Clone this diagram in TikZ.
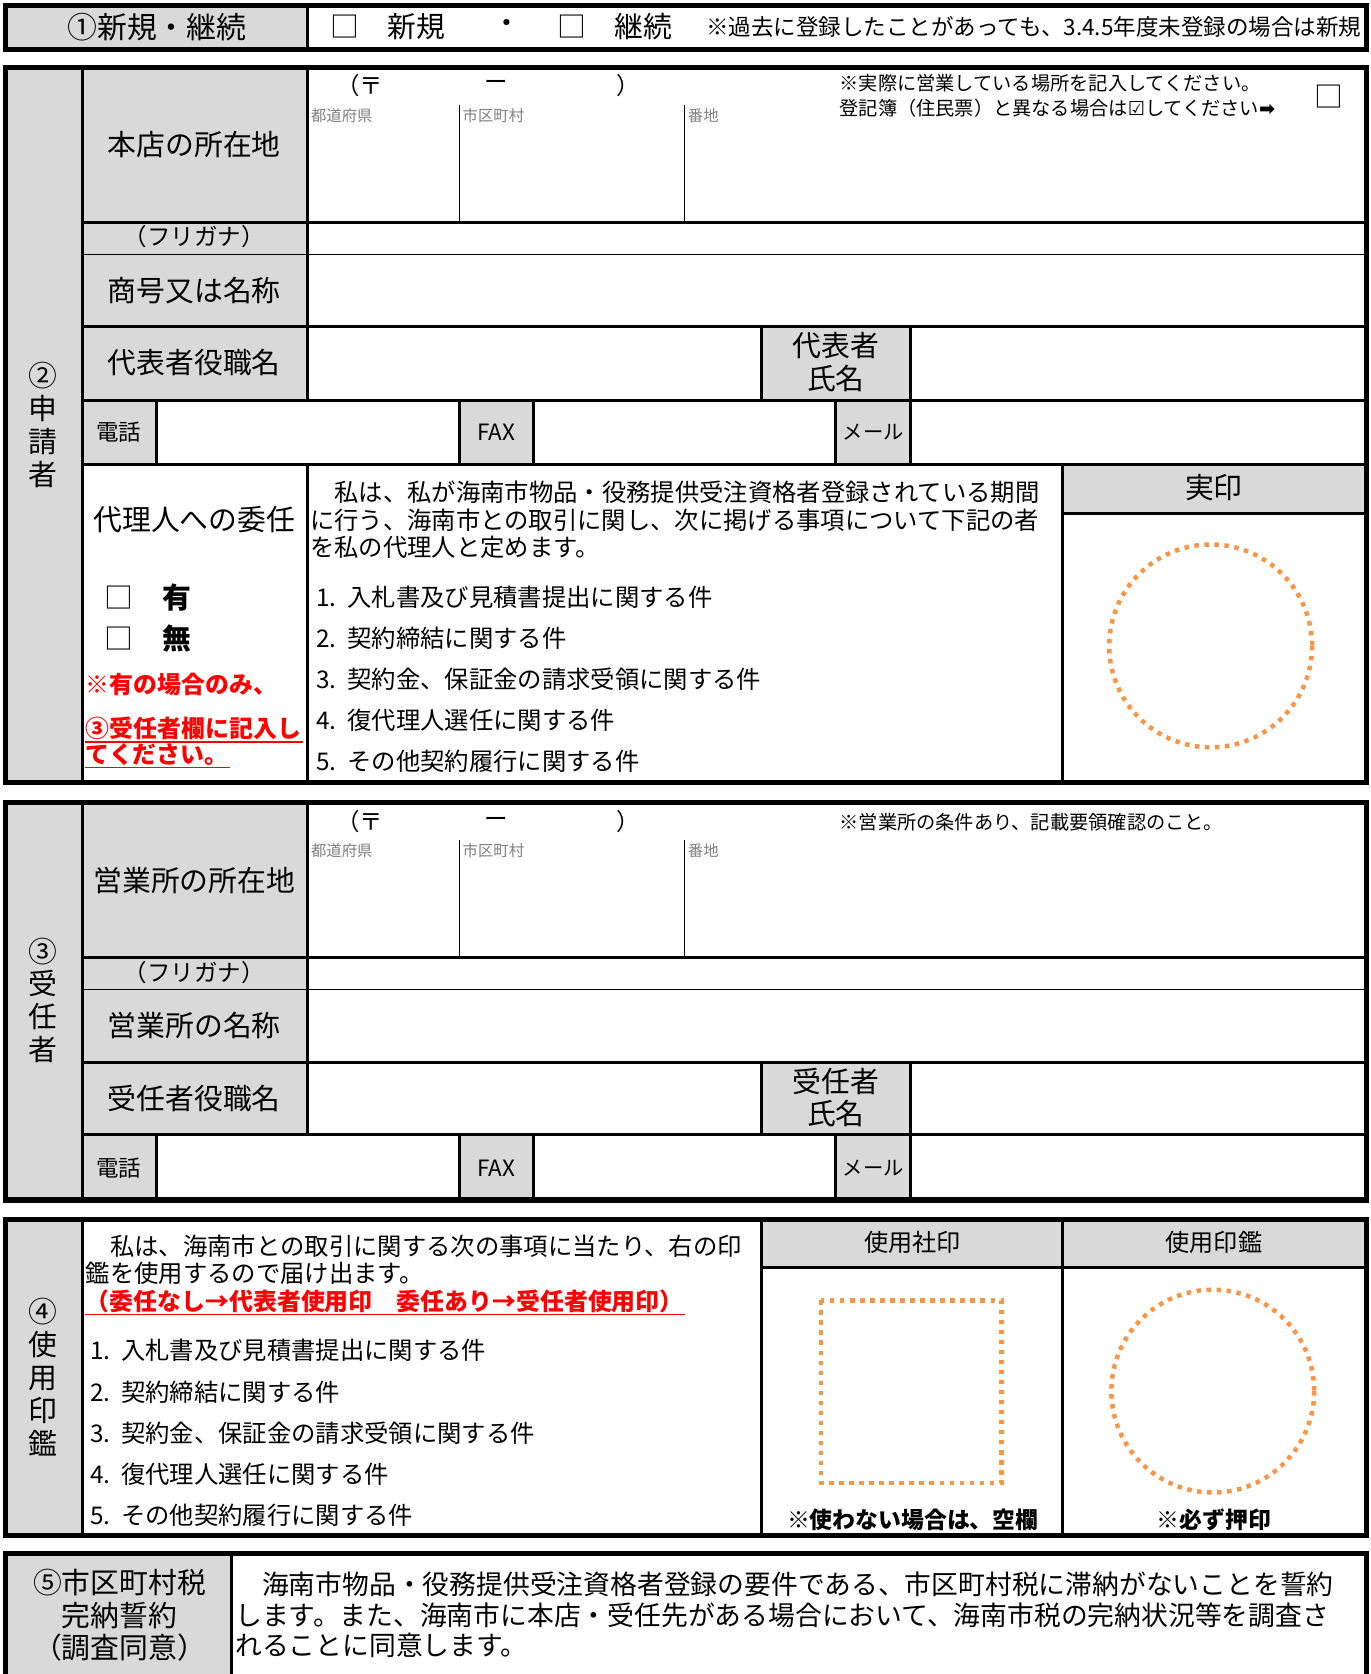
\documentclass[tikz,border=0pt]{standalone}
\usepackage{fontspec}
\setmainfont{Noto Sans CJK JP}
\newfontfamily\symfont{DejaVu Sans}
\usetikzlibrary{positioning}
\definecolor{cellgray}{HTML}{D9D9D9}
\definecolor{stamp}{HTML}{F79646}
\definecolor{hint}{HTML}{808080}
\tikzset{
outer/.style={line width=2.35pt},
inner/.style={line width=1.4pt},
hair/.style={line width=0.5pt},
stampline/.style={draw=stamp, line width=2.1pt, dash pattern=on 2.1pt off 2.6pt},
lbl/.style={inner sep=0pt, font=\fontsize{13.5pt}{15.5pt}\selectfont},
vlbl/.style={inner sep=0pt, align=center, font=\fontsize{13.5pt}{15.4pt}\selectfont},
zip/.style={inner sep=0pt, font=\fontsize{11pt}{13pt}\selectfont},
body/.style={inner sep=0pt, anchor=west, font=\fontsize{11.4pt}{13pt}\selectfont},
small/.style={inner sep=0pt, font=\fontsize{10.5pt}{12pt}\selectfont},
note/.style={inner sep=0pt, anchor=west, font=\fontsize{9pt}{11pt}\selectfont},
hint/.style={inner sep=0pt, anchor=west, text=hint, font=\fontsize{7.2pt}{8pt}\selectfont},
warn/.style={inner sep=0pt, anchor=west, text=red, font=\bfseries\fontsize{11.2pt}{13pt}\selectfont},
must/.style={inner sep=0pt, font=\bfseries\fontsize{10.7pt}{12pt}\selectfont}
}
\newcommand{\ul}{\draw[red, line width=0.6pt]}

\begin{document}
\begin{tikzpicture}[x=0.5pt,y=-0.5pt]
\clip (0,0) rectangle (1284,1568);
\fill[white] (0,0) rectangle (1284,1568);

% (1) new / continued
\fill[cellgray] (5,5) rectangle (288,46);
\draw[inner] (288,5) -- (288,46);
\draw[outer] (5,5) rectangle (1280,46);
\node[lbl, font=\fontsize{14pt}{16pt}\selectfont] (kind) at (147,25) {①新規・継続};
\node[lbl] (boxNew) at (323,25) {□};
\node[lbl] (new) at (390,25) {新規};
\node[lbl] (sep) at (475,25) {・};
\node[lbl] (boxCont) at (536,25) {□};
\node[lbl] (cont) at (603,25) {継続};
\node[inner sep=0pt, anchor=west, font=\fontsize{10.55pt}{12pt}\selectfont] (kindNote) at (661,25) {※過去に登録したことがあっても、3.4.5年度未登録の場合は新規};

% (2) applicant
\fill[cellgray] (5,63) rectangle (288,375);
\fill[cellgray] (5,375) rectangle (147,733);
\fill[cellgray] (430,375) rectangle (500,435);
\fill[cellgray] (783,375) rectangle (853,435);
\fill[cellgray] (713,306) rectangle (853,375);
\fill[cellgray] (995,435) rectangle (1280,481);
\fill[white] (77,435) rectangle (288,733);
\draw[inner] (77,63) -- (77,733);
\draw[inner] (288,63) -- (288,375) (288,435) -- (288,733);
\draw[inner] (77,208) -- (1280,208) (77,306) -- (1280,306) (77,375) -- (1280,375) (77,435) -- (1280,435);
\draw[hair] (77,238) -- (1280,238);
\draw[hair] (430,98) -- (430,208) (641,98) -- (641,208);
\draw[inner] (713,306) -- (713,375) (853,306) -- (853,435);
\draw[inner] (147,375) -- (147,435) (430,375) -- (430,435) (500,375) -- (500,435) (783,375) -- (783,435);
\draw[inner] (995,435) -- (995,733) (995,481) -- (1280,481);
\draw[outer] (5,63) rectangle (1280,733);
\draw[stampline] (1134,605) circle (95);

\node[vlbl] (appl) at (40,398) {②\\申\\請\\者};
\node[lbl] (hq) at (182,135) {本店の所在地};
\node[zip] (zipA) at (337,80) {（〒};
\node[zip] (zipB) at (465,80) {ー};
\node[zip] (zipC) at (588,80) {）};
\node[hint] (pref) at (291,108) {都道府県};
\node[hint] (city) at (433,108) {市区町村};
\node[hint] (lot) at (644,108) {番地};
\node[note] (hqNoteA) at (786,78) {※実際に営業している場所を記入してください。};
\node[note] (hqNoteB) at (786,101) {登記簿（住民票）と異なる場合は{\symfont ☑}してください{\symfont\bfseries ➡}};
\node[lbl] (hqBox) at (1245,90) {□};
\node[zip] (kana) at (182,222) {（フリガナ）};
\node[lbl] (firm) at (182,272) {商号又は名称};
\node[lbl] (rep) at (182,340) {代表者役職名};
\node[vlbl] (repName) at (783,339) {代表者\\氏名};
\node[small] (tel) at (111,405) {電話};
\node[small] (fax) at (465,405) {FAX};
\node[inner sep=0pt, font=\fontsize{9.5pt}{11pt}\selectfont] (mail) at (818,405) {メール};
\node[lbl] (agent) at (182,487) {代理人への委任};
\node[lbl] (boxYes) at (111,560) {□};
\node[lbl, font=\bfseries\fontsize{13.5pt}{15.5pt}\selectfont] (yes) at (166,560) {有};
\node[lbl] (boxNo) at (111,598) {□};
\node[lbl, font=\bfseries\fontsize{13.5pt}{15.5pt}\selectfont] (no) at (166,598) {無};
\node[warn] (warnA) at (80,641) {※有の場合のみ、};
\node[warn] (warnB) at (80,682) {③受任者欄に記入し};
\node[warn] (warnC) at (80,707) {てください。};
\ul (80,695) -- (284,695) (80,719) -- (215,719);
\node[body] (delA) at (290,461) {　私は、私が海南市物品・役務提供受注資格者登録されている期間};
\node[body] (delB) at (290,487) {に行う、海南市との取引に関し、次に掲げる事項について下記の者};
\node[body] (delC) at (290,513) {を私の代理人と定めます。};
\node[body] (itemA) at (296,559) {1.\kern5pt 入札書及び見積書提出に関する件};
\node[body] (itemB) at (296,598) {2.\kern5pt 契約締結に関する件};
\node[body] (itemC) at (296,636) {3.\kern5pt 契約金、保証金の請求受領に関する件};
\node[body] (itemD) at (296,675) {4.\kern5pt 復代理人選任に関する件};
\node[body] (itemE) at (296,713) {5.\kern5pt その他契約履行に関する件};
\node[lbl] (seal) at (1137,457) {実印};

% (3) delegate
\fill[cellgray] (5,752) rectangle (288,1063);
\fill[cellgray] (5,1063) rectangle (147,1124);
\fill[cellgray] (430,1063) rectangle (500,1124);
\fill[cellgray] (783,1063) rectangle (853,1124);
\fill[cellgray] (713,995) rectangle (853,1063);
\draw[inner] (77,752) -- (77,1124) (288,752) -- (288,1063);
\draw[inner] (77,897) -- (1280,897) (77,995) -- (1280,995) (77,1063) -- (1280,1063);
\draw[hair] (77,927) -- (1280,927);
\draw[hair] (430,787) -- (430,897) (641,787) -- (641,897);
\draw[inner] (713,995) -- (713,1063) (853,995) -- (853,1124);
\draw[inner] (147,1063) -- (147,1124) (430,1063) -- (430,1124) (500,1063) -- (500,1124) (783,1063) -- (783,1124);
\draw[outer] (5,752) rectangle (1280,1124);

\node[vlbl] (dlg) at (40,937) {③\\受\\任\\者};
\node[lbl] (office) at (182,825) {営業所の所在地};
\node[zip] (zipD) at (337,770) {（〒};
\node[zip] (zipE) at (465,770) {ー};
\node[zip] (zipF) at (588,770) {）};
\node[hint] (pref2) at (291,797) {都道府県};
\node[hint] (city2) at (433,797) {市区町村};
\node[hint] (lot2) at (644,797) {番地};
\node[note] (officeNote) at (786,770) {※営業所の条件あり、記載要領確認のこと。};
\node[zip] (kana2) at (182,911) {（フリガナ）};
\node[lbl] (officeName) at (182,961) {営業所の名称};
\node[lbl] (dlgPost) at (182,1029) {受任者役職名};
\node[vlbl] (dlgName) at (783,1028) {受任者\\氏名};
\node[small] (tel2) at (111,1094) {電話};
\node[small] (fax2) at (465,1094) {FAX};
\node[inner sep=0pt, font=\fontsize{9.5pt}{11pt}\selectfont] (mail2) at (818,1094) {メール};

% (4) seals in use
\fill[cellgray] (5,1142) rectangle (77,1438);
\fill[cellgray] (713,1142) rectangle (1280,1187);
\draw[inner] (77,1142) -- (77,1438) (713,1142) -- (713,1438) (995,1142) -- (995,1438);
\draw[inner] (713,1187) -- (1280,1187);
\draw[outer] (5,1142) rectangle (1280,1438);
\draw[stampline] (769,1218) rectangle (938,1389);
\draw[stampline] (1136,1303) circle (95);

\node[vlbl] (use) at (40,1290) {④\\使\\用\\印\\鑑};
\node[body] (useA) at (80,1167) {　私は、海南市との取引に関する次の事項に当たり、右の印};
\node[body] (useB) at (80,1193) {鑑を使用するので届け出ます。};
\node[warn] (useC) at (80,1219) {（委任なし→代表者使用印　委任あり→受任者使用印）};
\ul (80,1231) -- (642,1231);
\node[body] (useItemA) at (84,1265) {1.\kern5pt 入札書及び見積書提出に関する件};
\node[body] (useItemB) at (84,1304) {2.\kern5pt 契約締結に関する件};
\node[body] (useItemC) at (84,1342) {3.\kern5pt 契約金、保証金の請求受領に関する件};
\node[body] (useItemD) at (84,1381) {4.\kern5pt 復代理人選任に関する件};
\node[body] (useItemE) at (84,1419) {5.\kern5pt その他契約履行に関する件};
\node[inner sep=0pt, font=\fontsize{11.3pt}{13pt}\selectfont] (coSeal) at (855,1164) {使用社印};
\node[inner sep=0pt, font=\fontsize{11.3pt}{13pt}\selectfont] (perSeal) at (1137,1164) {使用印鑑};
\node[must] (coNote) at (855,1424) {※使わない場合は、空欄};
\node[must] (perNote) at (1137,1424) {※必ず押印};

% (5) tax pledge
\fill[cellgray] (5,1455) rectangle (217,1600);
\draw[inner] (217,1455) -- (217,1600);
\draw[outer] (5,1455) rectangle (1280,1600);
\node[vlbl, font=\fontsize{13.5pt}{15.25pt}\selectfont] (tax) at (112,1513) {⑤市区町村税\\完納誓約\\（調査同意）};
\node[body, font=\fontsize{12.55pt}{14pt}\selectfont] (taxA) at (220,1484) {　海南市物品・役務提供受注資格者登録の要件である、市区町村税に滞納がないことを誓約};
\node[body, font=\fontsize{12.55pt}{14pt}\selectfont] (taxB) at (220,1513) {します。また、海南市に本店・受任先がある場合において、海南市税の完納状況等を調査さ};
\node[body, font=\fontsize{12.55pt}{14pt}\selectfont] (taxC) at (220,1541) {れることに同意します。};
\end{tikzpicture}
\end{document}
